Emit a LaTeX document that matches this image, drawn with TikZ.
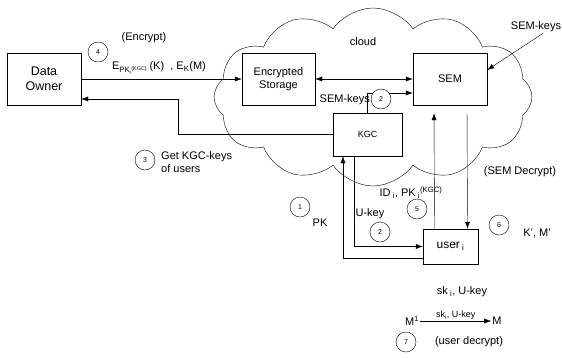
\documentclass[tikz,border=0pt]{standalone}
\usepackage{fontspec}
\setmainfont{Liberation Sans}
\usetikzlibrary{arrows.meta,shapes.symbols}

\begin{document}
\begin{tikzpicture}[x=1pt,y=-1pt,
    >={Latex[length=7pt,width=5pt]},
    box/.style={draw,rectangle,align=center,inner sep=0pt},
    num/.style={draw,circle,fill=white,minimum size=20pt,inner sep=0pt,font=\fontsize{7}{8}\selectfont},
    lbl/.style={font=\fontsize{11}{13}\selectfont,align=left,inner sep=1pt}]
  \useasboundingbox (0,0) rectangle (562,357);

  \node[cloud,draw,cloud puffs=12,cloud puff arc=110,minimum width=318pt,minimum height=178pt,inner sep=0pt] (cloud) at (373,97) {};

  \begin{scope}[every node/.style={box}]
    \node[minimum width=74pt,minimum height=52pt,font=\fontsize{12.5}{15}\selectfont] (owner) at (44,79) {Data\\Owner};
    \node[minimum width=73pt,minimum height=52pt,font=\fontsize{11}{13.5}\selectfont] (storage) at (278.5,79) {Encrypted\\Storage};
    \node[minimum width=74pt,minimum height=52pt,font=\fontsize{11}{13}\selectfont] (sem) at (450,79) {SEM};
    \node[minimum width=69pt,minimum height=43pt,font=\fontsize{9}{10}\selectfont] (kgc) at (367.5,134.5) {KGC};
    \node[minimum width=55pt,minimum height=35pt,font=\fontsize{12}{14}\selectfont] (user) at (450.5,246.5) {user\textsubscript{ i}};
  \end{scope}

  \coordinate (bend) at (178,99);

  % arrows between boxes
  \draw[->] (owner.east) -- (storage.west);
  \draw[->] (kgc.west) -| (bend) -- (bend -| owner.east);
  \draw[<->] (storage.east) -- (sem.west);
  \draw[->] (kgc.north) |- ([yshift=-14pt]sem.west);
  \draw[->] ([yshift=-11.5pt]user.west) -| ([xshift=-24.5pt]kgc.south);
  \draw[->] ([xshift=-13.5pt]kgc.south) |- (user.west);
  \draw[->,shorten >=8pt] ([xshift=-16pt]user.north) -- ([xshift=-16pt]sem.south);
  \draw[->,shorten <=8pt] ([xshift=17pt]sem.south) -- ([xshift=17pt]user.north);

  \node[lbl] (semkeys) at (536,27) {SEM-keys};
  \draw[->] ([xshift=7pt]semkeys.south) -- ([yshift=9pt]sem.east);

  % labels
  \node[lbl] (cloudtxt) at (363,42) {cloud};
  \node[lbl] (enc) at (144,38) {(Encrypt)};
  \node[lbl] (cipher) at (159,68) {E\textsubscript{PK\textsubscript{i}\textsuperscript{(KGC)}}\,(K)\ \ , E\textsubscript{K}(M)};
  \node[lbl,anchor=west] (getkeys) at (160,162) {Get KGC-keys\\of users};
  \node[lbl,anchor=east] (semkeys2) at (371,100) {SEM-keys};
  \node[lbl] (semdec) at (520,172) {(SEM Decrypt)};
  \node[lbl] (pk) at (320,223) {PK};
  \node[lbl] (ukey) at (370,214) {U-key};
  \node[lbl] (idpk) at (411,193) {ID\textsubscript{ i}, PK\textsubscript{ i}\textsuperscript{(KGC)}};
  \node[lbl] (kmp) at (537,233) {K', M'};
  \node[lbl] (skukey) at (462,292) {sk\textsubscript{ i}, U-key};
  \node[lbl] (m1) at (412,321) {M\textsuperscript{1}};
  \node[lbl] (m) at (497,321) {M};
  \draw[->] (m1) -- node[above,font=\fontsize{9}{10}\selectfont,inner sep=1pt] (arrowlbl) {sk\textsubscript{i}, U-key} (m);
  \node[lbl] (userdec) at (469,342) {(user decrypt)};

  % step numbers
  \node[num] (n4) at (98,52) {4};
  \node[num] (n3) at (145,160) {3};
  \node[num] (n2a) at (381,99) {2};
  \node[num] (n1) at (300,207) {1};
  \node[num] (n2b) at (380,232) {2};
  \node[num] (n5) at (417,209) {5};
  \node[num] (n6) at (499,225) {6};
  \node[num] (n7) at (406,342) {7};

\end{tikzpicture}
\end{document}
